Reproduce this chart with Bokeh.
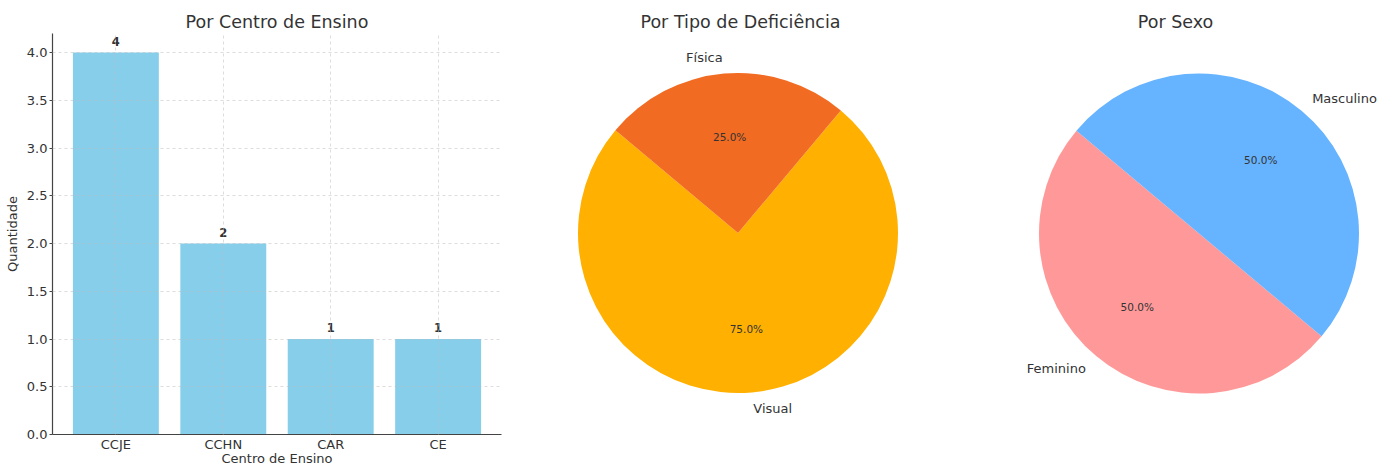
import math
from bokeh.plotting import figure
from bokeh.layouts import row
from bokeh.models import Range1d, FactorRange, FixedTicker, NumeralTickFormatter
from bokeh.core.properties import value
from bokeh.embed import file_html
from bokeh.resources import INLINE

# ---------------- data ----------------
centros = ["CCJE", "CCHN", "CAR", "CE"]
quantidades = [4, 2, 1, 1]

deficiencias = ["Visual", "Física"]
def_valores = [3, 1]
def_cores = ["#FFB000", "#F26B22"]

sexos = ["Feminino", "Masculino"]
sexo_valores = [1, 1]
sexo_cores = ["#FF9999", "#66B3FF"]

y_ticks = [0.0, 0.5, 1.0, 1.5, 2.0, 2.5, 3.0, 3.5, 4.0]

FONT = "DejaVu Sans"
TXT = "#333333"
H = 468
BT = 33      # top border (frame top)
BB = 34      # bottom border
FRAME_TOP = BT
FRAME_BOTTOM = H - BB


def style_title(p):
    p.title.align = "center"
    p.title.text_font = FONT
    p.title.text_font_size = "17.5px"
    p.title.text_font_style = "normal"
    p.title.text_color = TXT
    p.title.standoff = 3


# ---------------- bar chart ----------------
p1 = figure(width=520, height=H, output_backend="svg", toolbar_location=None,
            x_range=FactorRange(factors=centros, range_padding=0.045),
            y_range=Range1d(0, 4.2),
            min_border_left=52, min_border_right=19, min_border_top=BT, min_border_bottom=BB,
            title="Por Centro de Ensino")
style_title(p1)
p1.outline_line_color = None

p1.vbar(x=centros, top=quantidades, width=0.8, color="#87CEEB", line_color=None)
p1.text(x=centros, y=quantidades, text=[str(v) for v in quantidades],
        text_align="center", text_baseline="bottom", y_offset=-7,
        text_font=value(FONT), text_font_size="11.5px", text_font_style="bold",
        text_color=TXT)

p1.yaxis.ticker = FixedTicker(ticks=y_ticks)
p1.yaxis.formatter = NumeralTickFormatter(format="0.0")
p1.yaxis.axis_label = "Quantidade"
p1.xaxis.axis_label = "Centro de Ensino"
for ax in (p1.xaxis[0], p1.yaxis[0]):
    ax.axis_label_text_font = FONT
    ax.axis_label_text_font_size = "13px"
    ax.axis_label_text_font_style = "normal"
    ax.axis_label_text_color = TXT
    ax.major_label_text_font = FONT
    ax.major_label_text_font_size = "13px"
    ax.major_label_text_color = TXT
    ax.axis_line_color = "#444444"
    ax.axis_line_width = 1.2
    ax.major_tick_line_color = "#444444"
    ax.major_tick_out = 3
    ax.major_tick_in = 0
    ax.minor_tick_line_color = None
    ax.major_label_standoff = 2
    ax.axis_label_standoff = 4
p1.xaxis.major_tick_out = 0
p1.xaxis.major_label_standoff = 2
p1.xaxis.axis_label_standoff = -4

for g in (p1.xgrid[0], p1.ygrid[0]):
    g.grid_line_color = "#bbbbbb"
    g.grid_line_dash = "3 3"
    g.grid_line_alpha = 0.5
    g.level = "guide"
p1.ygrid.ticker = FixedTicker(ticks=y_ticks)


# ---------------- pie helper ----------------
def pie(width, left_px, cx_px, cy_px, r_px, title, labels, vals, colors, start_deg):
    # frame page coordinates -> data units (1 unit = radius)
    x0 = (left_px - cx_px) / r_px
    x1 = (left_px + width - cx_px) / r_px
    y0 = -(FRAME_BOTTOM - cy_px) / r_px
    y1 = (cy_px - FRAME_TOP) / r_px
    p = figure(width=width, height=H, output_backend="svg", toolbar_location=None,
               x_range=Range1d(x0, x1), y_range=Range1d(y0, y1),
               min_border_left=0, min_border_right=0,
               min_border_top=BT, min_border_bottom=BB, title=title)
    style_title(p)
    p.axis.visible = False
    p.grid.visible = False
    p.outline_line_color = None

    total = float(sum(vals))
    starts, ends, mids, pcts = [], [], [], []
    a = math.radians(start_deg)
    for v in vals:
        span = 2 * math.pi * v / total
        starts.append(a)
        ends.append(a + span)
        mids.append(a + span / 2)
        pcts.append("%.1f%%" % (100.0 * v / total))
        a += span
    p.wedge(x=[0] * len(vals), y=[0] * len(vals), radius=1,
            start_angle=starts, end_angle=ends, fill_color=colors, line_color=None)

    lx = [1.1 * math.cos(m) for m in mids]
    ly = [1.1 * math.sin(m) for m in mids]
    al = ["left" if x > 0 else "right" for x in lx]
    p.text(x=lx, y=ly, text=labels, text_align=al, text_baseline="middle",
           text_font=value(FONT), text_font_size="13px", text_color=TXT)

    px = [0.6 * math.cos(m) for m in mids]
    py = [0.6 * math.sin(m) for m in mids]
    p.text(x=px, y=py, text=pcts, text_align="center", text_baseline="middle",
           text_font=value(FONT), text_font_size="10.5px", text_color=TXT)
    return p


p2 = pie(440, 520, 737.5, 232.5, 160, "Por Tipo de Deficiência",
         deficiencias, def_valores, def_cores, 140)
p3 = pie(430, 960, 1198.5, 233, 160, "Por Sexo",
         sexos, sexo_valores, sexo_cores, 140)

layout = row(p1, p2, p3)
open("out.html", "w").write(file_html(layout, INLINE))
